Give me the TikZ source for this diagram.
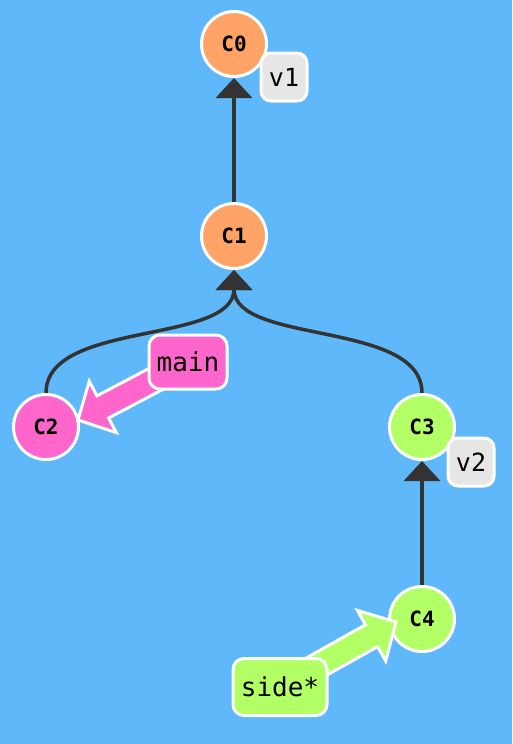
\documentclass[tikz,border=0pt]{standalone}
\usepackage{fontspec}
\setmonofont{DejaVu Sans Mono}
\usetikzlibrary{arrows.meta,calc}
\definecolor{bg}{HTML}{5EB8FA}
\definecolor{corange}{HTML}{FFA466}
\definecolor{cpink}{HTML}{FF66CC}
\definecolor{cgreen}{HTML}{B3FF66}
\definecolor{ctag}{HTML}{E6E6E6}
\definecolor{cline}{HTML}{333333}
\newcommand\fatarr[3]{%
  \coordinate (hb) at ($(#2)!28pt!(#1)$);
  \filldraw[fill=#3, draw=white, line width=3pt, line join=miter]
    ($(#1)!12.5pt!90:(#2)$) -- ($(hb)!12.5pt!90:(#2)$) -- ($(hb)!29pt!90:(#2)$) --
    (#2) -- ($(hb)!29pt!-90:(#2)$) -- ($(hb)!12.5pt!-90:(#2)$) --
    ($(#1)!12.5pt!-90:(#2)$) -- cycle;}
\begin{document}
\begin{tikzpicture}[x=1pt,y=-1pt,
  commit/.style={circle, draw=white, line width=3pt, minimum size=65pt, inner sep=0pt,
    font=\ttfamily\bfseries\fontsize{21}{21}\selectfont},
  tagbox/.style={rounded corners=10pt, draw=white, line width=3pt, fill=ctag,
    minimum width=46pt, minimum height=48pt, inner sep=0pt,
    font=\ttfamily\fontsize{25}{25}\selectfont},
  branch/.style={rounded corners=11pt, draw=white, line width=3pt, inner sep=0pt,
    font=\ttfamily\fontsize{26}{26}\selectfont},
  edge/.style={draw=cline, line width=3.5pt, -{Triangle[width=36pt,length=20pt]}}]
\fill[bg] (0,0) rectangle (512,744);
\useasboundingbox (0,0) rectangle (512,744);
\node[commit, fill=corange] (C0) at (234,44) {C0};
\node[commit, fill=corange] (C1) at (234,236) {C1};
\node[commit, fill=cpink] (C2) at (46,427) {C2};
\node[commit, fill=cgreen] (C3) at (422,427) {C3};
\node[commit, fill=cgreen] (C4) at (422,619) {C4};
\draw[edge] (C1) -- (C0);
\draw[edge] (C2.north) .. controls (46,320) and (234,345) .. (C1.south);
\draw[edge] (C3.north) .. controls (422,320) and (234,345) .. (C1.south);
\draw[edge] (C4) -- (C3);
\node[tagbox] (v1) at (284,77) {v1};
\node[tagbox] (v2) at (471,462) {v2};
\coordinate (mS) at (188,362);
\coordinate (mT) at (78,420);
\fatarr{mS}{mT}{cpink}
\coordinate (sS) at (280,687);
\coordinate (sT) at (396,622);
\fatarr{sS}{sT}{cgreen}
\node[branch, fill=cpink, minimum width=78pt, minimum height=54pt] (main) at (188,362) {main};
\node[branch, fill=cgreen, minimum width=94pt, minimum height=57pt] (side) at (280,687) {side*};
\end{tikzpicture}
\end{document}
